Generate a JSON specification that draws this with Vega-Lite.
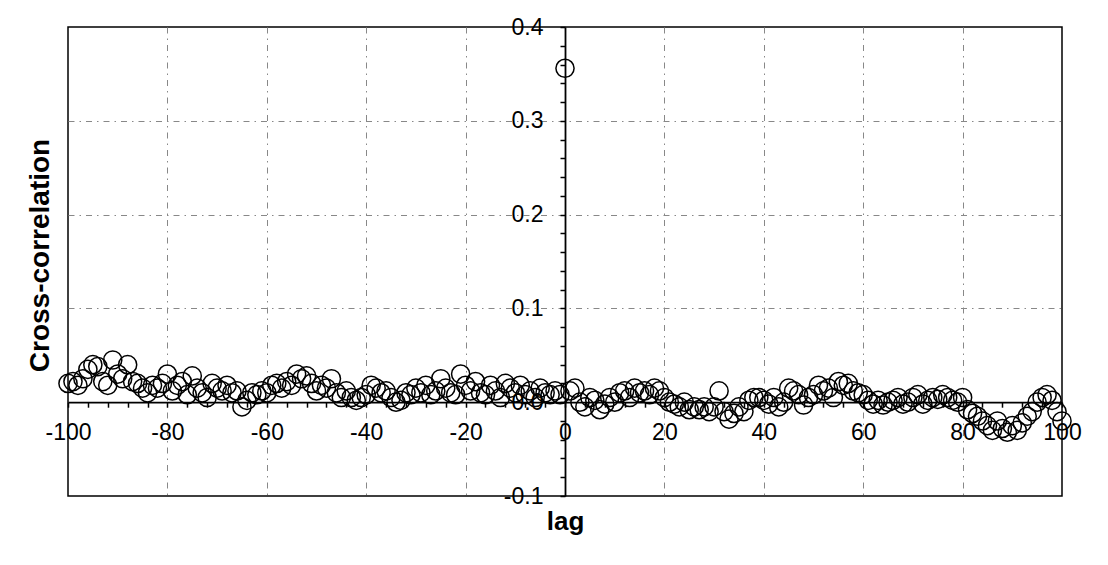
{
  "$schema": "https://vega.github.io/schema/vega-lite/v6.json",
  "width": 994,
  "height": 469,
  "autosize": {"type": "none"},
  "padding": {"left": 68, "top": 27, "right": 46, "bottom": 69},
  "background": "white",
  "config": {
    "font": "Liberation Sans",
    "view": {"stroke": "black", "strokeWidth": 1.5}
  },
  "data": {"values": [
    {"lag":-100,"r":0.020},{"lag":-99,"r":0.022},{"lag":-98,"r":0.018},{"lag":-97,"r":0.025},{"lag":-96,"r":0.035},
    {"lag":-95,"r":0.040},{"lag":-94,"r":0.038},{"lag":-93,"r":0.022},{"lag":-92,"r":0.018},{"lag":-91,"r":0.045},
    {"lag":-90,"r":0.030},{"lag":-89,"r":0.025},{"lag":-88,"r":0.040},{"lag":-87,"r":0.022},{"lag":-86,"r":0.020},
    {"lag":-85,"r":0.015},{"lag":-84,"r":0.010},{"lag":-83,"r":0.018},{"lag":-82,"r":0.015},{"lag":-81,"r":0.020},
    {"lag":-80,"r":0.030},{"lag":-79,"r":0.012},{"lag":-78,"r":0.018},{"lag":-77,"r":0.022},{"lag":-76,"r":0.008},
    {"lag":-75,"r":0.028},{"lag":-74,"r":0.015},{"lag":-73,"r":0.010},{"lag":-72,"r":0.005},{"lag":-71,"r":0.020},
    {"lag":-70,"r":0.015},{"lag":-69,"r":0.012},{"lag":-68,"r":0.018},{"lag":-67,"r":0.010},{"lag":-66,"r":0.012},
    {"lag":-65,"r":-0.005},{"lag":-64,"r":0.002},{"lag":-63,"r":0.010},{"lag":-62,"r":0.008},{"lag":-61,"r":0.012},
    {"lag":-60,"r":0.010},{"lag":-59,"r":0.018},{"lag":-58,"r":0.020},{"lag":-57,"r":0.015},{"lag":-56,"r":0.022},
    {"lag":-55,"r":0.018},{"lag":-54,"r":0.030},{"lag":-53,"r":0.025},{"lag":-52,"r":0.028},{"lag":-51,"r":0.020},
    {"lag":-50,"r":0.012},{"lag":-49,"r":0.018},{"lag":-48,"r":0.015},{"lag":-47,"r":0.025},{"lag":-46,"r":0.010},
    {"lag":-45,"r":0.005},{"lag":-44,"r":0.012},{"lag":-43,"r":0.005},{"lag":-42,"r":0.002},{"lag":-41,"r":0.005},
    {"lag":-40,"r":0.008},{"lag":-39,"r":0.018},{"lag":-38,"r":0.015},{"lag":-37,"r":0.010},{"lag":-36,"r":0.012},
    {"lag":-35,"r":0.005},{"lag":-34,"r":0.000},{"lag":-33,"r":0.002},{"lag":-32,"r":0.010},{"lag":-31,"r":0.008},
    {"lag":-30,"r":0.015},{"lag":-29,"r":0.010},{"lag":-28,"r":0.018},{"lag":-27,"r":0.008},{"lag":-26,"r":0.012},
    {"lag":-25,"r":0.025},{"lag":-24,"r":0.015},{"lag":-23,"r":0.010},{"lag":-22,"r":0.008},{"lag":-21,"r":0.030},
    {"lag":-20,"r":0.018},{"lag":-19,"r":0.012},{"lag":-18,"r":0.022},{"lag":-17,"r":0.010},{"lag":-16,"r":0.008},
    {"lag":-15,"r":0.018},{"lag":-14,"r":0.012},{"lag":-13,"r":0.005},{"lag":-12,"r":0.020},{"lag":-11,"r":0.015},
    {"lag":-10,"r":0.010},{"lag":-9,"r":0.018},{"lag":-8,"r":0.008},{"lag":-7,"r":0.012},{"lag":-6,"r":0.005},
    {"lag":-5,"r":0.015},{"lag":-4,"r":0.010},{"lag":-3,"r":0.008},{"lag":-2,"r":0.012},{"lag":-1,"r":0.008},
    {"lag":0,"r":0.356},
    {"lag":1,"r":0.012},{"lag":2,"r":0.015},{"lag":3,"r":0.000},{"lag":4,"r":-0.005},{"lag":5,"r":0.005},
    {"lag":6,"r":0.002},{"lag":7,"r":-0.008},{"lag":8,"r":-0.002},{"lag":9,"r":0.005},{"lag":10,"r":0.000},
    {"lag":11,"r":0.010},{"lag":12,"r":0.012},{"lag":13,"r":0.005},{"lag":14,"r":0.015},{"lag":15,"r":0.010},
    {"lag":16,"r":0.012},{"lag":17,"r":0.008},{"lag":18,"r":0.015},{"lag":19,"r":0.012},{"lag":20,"r":0.005},
    {"lag":21,"r":0.000},{"lag":22,"r":-0.002},{"lag":23,"r":-0.005},{"lag":24,"r":0.000},{"lag":25,"r":-0.008},
    {"lag":26,"r":-0.005},{"lag":27,"r":-0.008},{"lag":28,"r":-0.005},{"lag":29,"r":-0.010},{"lag":30,"r":-0.005},
    {"lag":31,"r":0.012},{"lag":32,"r":-0.010},{"lag":33,"r":-0.018},{"lag":34,"r":-0.012},{"lag":35,"r":-0.005},
    {"lag":36,"r":-0.010},{"lag":37,"r":0.002},{"lag":38,"r":0.005},{"lag":39,"r":0.005},{"lag":40,"r":0.002},
    {"lag":41,"r":-0.002},{"lag":42,"r":0.005},{"lag":43,"r":-0.005},{"lag":44,"r":0.000},{"lag":45,"r":0.015},
    {"lag":46,"r":0.012},{"lag":47,"r":0.008},{"lag":48,"r":-0.003},{"lag":49,"r":0.005},{"lag":50,"r":0.008},
    {"lag":51,"r":0.018},{"lag":52,"r":0.012},{"lag":53,"r":0.015},{"lag":54,"r":0.005},{"lag":55,"r":0.022},
    {"lag":56,"r":0.018},{"lag":57,"r":0.020},{"lag":58,"r":0.012},{"lag":59,"r":0.010},{"lag":60,"r":0.008},
    {"lag":61,"r":0.002},{"lag":62,"r":-0.002},{"lag":63,"r":0.002},{"lag":64,"r":-0.003},{"lag":65,"r":0.000},
    {"lag":66,"r":0.002},{"lag":67,"r":0.005},{"lag":68,"r":-0.002},{"lag":69,"r":0.000},{"lag":70,"r":0.005},
    {"lag":71,"r":0.008},{"lag":72,"r":-0.002},{"lag":73,"r":0.002},{"lag":74,"r":0.005},{"lag":75,"r":0.003},
    {"lag":76,"r":0.008},{"lag":77,"r":0.005},{"lag":78,"r":0.002},{"lag":79,"r":0.000},{"lag":80,"r":0.005},
    {"lag":81,"r":-0.008},{"lag":82,"r":-0.012},{"lag":83,"r":-0.015},{"lag":84,"r":-0.020},{"lag":85,"r":-0.025},
    {"lag":86,"r":-0.030},{"lag":87,"r":-0.020},{"lag":88,"r":-0.028},{"lag":89,"r":-0.032},{"lag":90,"r":-0.025},
    {"lag":91,"r":-0.030},{"lag":92,"r":-0.022},{"lag":93,"r":-0.015},{"lag":94,"r":-0.010},{"lag":95,"r":0.000},
    {"lag":96,"r":0.005},{"lag":97,"r":0.008},{"lag":98,"r":0.002},{"lag":99,"r":-0.010},{"lag":100,"r":-0.020}
  ]},
  "mark": {"type": "point", "shape": "circle", "filled": false, "size": 330, "stroke": "black", "strokeWidth": 1.5, "opacity": 1, "clip": false},
  "encoding": {
    "x": {
      "field": "lag", "type": "quantitative",
      "scale": {"domain": [-100, 100], "nice": false, "zero": false},
      "axis": {
        "title": "lag",
        "titleFontSize": 26, "titleFontWeight": "bold", "titleColor": "black",
        "titleY": 127, "titleBaseline": "alphabetic",
        "offset": -93.8,
        "values": [-100,-96,-92,-88,-84,-80,-76,-72,-68,-64,-60,-56,-52,-48,-44,-40,-36,-32,-28,-24,-20,-16,-12,-8,-4,0,4,8,12,16,20,24,28,32,36,40,44,48,52,56,60,64,68,72,76,80,84,88,92,96,100],
        "labelExpr": "datum.value % 20 == 0 ? toString(datum.value) : ''",
        "labelFontSize": 23, "labelColor": "black", "labelPadding": 14,
        "labelFlush": false, "labelOverlap": false, "labelBound": false,
        "tickSize": 5, "tickColor": "black", "tickWidth": 1.5,
        "domainColor": "black", "domainWidth": 1.8,
        "grid": true,
        "gridColor": "#888888", "gridWidth": 1, "gridDash": [6, 5, 1.5, 5],
        "gridOpacity": {"condition": {"test": "datum.value % 20 == 0 && abs(datum.value) < 100 && datum.value != 0", "value": 1}, "value": 0},
        "encode": {"ticks": {"update": {"y": {"value": -5}}}}
      }
    },
    "y": {
      "field": "r", "type": "quantitative",
      "scale": {"domain": [-0.1, 0.4], "nice": false, "zero": false},
      "axis": {
        "title": "Cross-correlation",
        "titleFontSize": 28, "titleFontWeight": "bold", "titleColor": "black",
        "titleX": -517, "titleY": 228, "titleAngle": -90, "titleBaseline": "alphabetic",
        "offset": -497,
        "values": [-0.1,-0.08,-0.06,-0.04,-0.02,0,0.02,0.04,0.06,0.08,0.1,0.12,0.14,0.16,0.18,0.2,0.22,0.24,0.26,0.28,0.3,0.32,0.34,0.36,0.38,0.4],
        "labelExpr": "abs(round(datum.value*50)) % 5 == 0 ? replace(format(datum.value, '.1f'), '\u2212', '-') : ''",
        "labelFontSize": 23, "labelColor": "black", "labelPadding": 17,
        "labelFlush": false, "labelOverlap": false, "labelBound": false,
        "tickSize": 5, "tickColor": "black", "tickWidth": 1.5,
        "domainColor": "black", "domainWidth": 1.8,
        "grid": true,
        "gridColor": "#888888", "gridWidth": 1, "gridDash": [6, 5, 1.5, 5],
        "gridOpacity": {"condition": {"test": "abs(round(datum.value*50)) % 5 == 0 && datum.value > 0.01 && datum.value < 0.39", "value": 1}, "value": 0},
        "encode": {"ticks": {"update": {"x": {"value": 5}}}}
      }
    }
  }
}
